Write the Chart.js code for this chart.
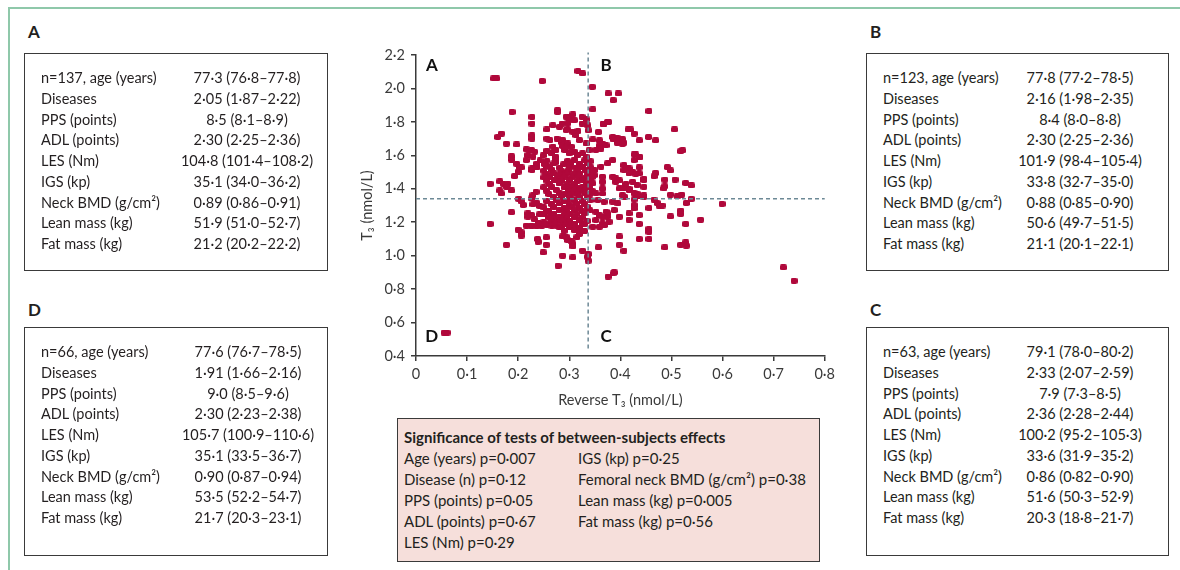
<!DOCTYPE html>
<html><head><meta charset="utf-8">
<script src="https://cdn.jsdelivr.net/npm/chart.js@4/dist/chart.umd.min.js"></script>
<style>
body{margin:0;width:1180px;height:570px;background:#fff;font-family:Lato,"Open Sans",sans-serif;color:#231f20;position:relative;overflow:hidden}
#frame{position:absolute;left:8px;top:7px;width:1200px;height:600px;border-left:2px solid #8fc8aa;border-top:2px solid #8fc8aa}
.lab{position:absolute;font-weight:bold;font-size:17px;line-height:20px}
.box{position:absolute;border:1px solid #3a3a3a;box-sizing:border-box;background:#fff}
.row{position:absolute;left:0;width:100%;height:20px;line-height:20px;font-size:14.5px;white-space:nowrap}
.row .k{position:absolute}
.row .v{position:absolute;width:220px;text-align:center}
#sig{background:#f6dfdb}
#sig .row{font-size:15px}
#sig .t{position:absolute;left:6px;top:8px;font-weight:bold;font-size:15px;line-height:20px;white-space:nowrap}
#chartWrap{position:absolute;left:340px;top:40px;width:500px;height:380px}
</style></head>
<body>
<div id="frame"></div>
<div id="chartWrap"><canvas id="c" width="500" height="380"></canvas></div>
<script>
// ---------- table data ----------
const rowLabels = ['age (years)','Diseases','PPS (points)','ADL (points)','LES (Nm)','IGS (kp)','Neck BMD (g/cm\u00b2)','Lean mass (kg)','Fat mass (kg)'];
const groupN = {A:137, B:123, C:63, D:66};
const valuesA = ['77·3 (76·8–77·8)','2·05 (1·87–2·22)','8·5 (8·1–8·9)','2·30 (2·25–2·36)','104·8 (101·4–108·2)','35·1 (34·0–36·2)','0·89 (0·86–0·91)','51·9 (51·0–52·7)','21·2 (20·2–22·2)'];
const valuesB = ['77·8 (77·2–78·5)','2·16 (1·98–2·35)','8·4 (8·0–8·8)','2·30 (2·25–2·36)','101·9 (98·4–105·4)','33·8 (32·7–35·0)','0·88 (0·85–0·90)','50·6 (49·7–51·5)','21·1 (20·1–22·1)'];
const valuesC = ['79·1 (78·0–80·2)','2·33 (2·07–2·59)','7·9 (7·3–8·5)','2·36 (2·28–2·44)','100·2 (95·2–105·3)','33·6 (31·9–35·2)','0·86 (0·82–0·90)','51·6 (50·3–52·9)','20·3 (18·8–21·7)'];
const valuesD = ['77·6 (76·7–78·5)','1·91 (1·66–2·16)','9·0 (8·5–9·6)','2·30 (2·23–2·38)','105·7 (100·9–110·6)','35·1 (33·5–36·7)','0·90 (0·87–0·94)','53·5 (52·2–54·7)','21·7 (20·3–23·1)'];
const sigTitle = 'Significance of tests of between-subjects effects';
const sigLeft = ['Age (years) p=0·007','Disease (n) p=0·12','PPS (points) p=0·05','ADL (points) p=0·67','LES (Nm) p=0·29'];
const sigRight = ['IGS (kp) p=0·25','Femoral neck BMD (g/cm\u00b2) p=0·38','Lean mass (kg) p=0·005','Fat mass (kg) p=0·56'];

// ---------- scatter data: [reverse T3, T3] ----------
const ptsOuter = [[0.152,2.06],[0.158,2.06],[0.247,2.045],[0.317,2.105],[0.326,2.09],[0.345,2.01],[0.376,1.97],[0.396,1.97],[0.386,1.93],[0.346,1.875],[0.277,1.87],[0.277,1.86],[0.188,1.86],[0.456,1.865],[0.227,1.83],[0.227,1.79],[0.307,1.845],[0.300,1.83],[0.310,1.81],[0.325,1.83],[0.334,1.815],[0.325,1.79],[0.377,1.80],[0.367,1.785],[0.286,1.79],[0.268,1.78],[0.256,1.755],[0.415,1.755],[0.420,1.755],[0.506,1.755],[0.337,1.75],[0.357,1.74],[0.160,1.71],[0.167,1.73],[0.177,1.67],[0.197,1.665],[0.227,1.72],[0.227,1.70],[0.256,1.70],[0.276,1.70],[0.284,1.68],[0.385,1.71],[0.394,1.705],[0.404,1.69],[0.407,1.675],[0.427,1.73],[0.437,1.69],[0.455,1.71],[0.469,1.69],[0.359,1.69],[0.359,1.66],[0.365,1.67],[0.372,1.66],[0.518,1.625],[0.522,1.63],[0.430,1.605],[0.437,1.59],[0.187,1.595],[0.187,1.575],[0.197,1.55],[0.203,1.53],[0.236,1.55],[0.145,1.43],[0.164,1.445],[0.171,1.43],[0.180,1.43],[0.164,1.39],[0.187,1.39],[0.201,1.34],[0.206,1.325],[0.187,1.26],[0.145,1.19],[0.177,1.065],[0.200,1.155],[0.206,1.14],[0.206,1.12],[0.238,1.10],[0.255,1.11],[0.255,1.065],[0.249,1.02],[0.278,0.94],[0.287,1.00],[0.307,0.99],[0.326,1.03],[0.337,1.01],[0.337,0.97],[0.357,1.05],[0.376,0.875],[0.388,0.90],[0.398,1.115],[0.398,1.065],[0.407,1.03],[0.417,1.215],[0.437,1.19],[0.437,1.10],[0.456,1.10],[0.456,1.16],[0.487,1.05],[0.498,1.235],[0.518,1.27],[0.518,1.25],[0.528,1.19],[0.518,1.065],[0.528,1.08],[0.529,1.06],[0.557,1.215],[0.599,1.31],[0.719,0.93],[0.740,0.85],[0.055,0.54],[0.061,0.54],[0.492,1.53],[0.498,1.51],[0.507,1.455],[0.528,1.435],[0.539,1.42],[0.539,1.34],[0.529,1.315],[0.498,1.365],[0.511,1.355],[0.520,1.365],[0.487,1.455],[0.487,1.415],[0.469,1.495],[0.466,1.475],[0.482,1.30],[0.466,1.335],[0.472,1.315],[0.456,1.285]];
const ptsRight = [[0.367,1.79],[0.375,1.80],[0.386,1.695],[0.404,1.695],[0.404,1.67],[0.394,1.675],[0.346,1.695],[0.362,1.67],[0.362,1.64],[0.352,1.632],[0.427,1.606],[0.437,1.588],[0.427,1.572],[0.385,1.572],[0.375,1.552],[0.362,1.532],[0.407,1.542],[0.407,1.512],[0.417,1.522],[0.417,1.492],[0.437,1.528],[0.437,1.492],[0.349,1.512],[0.349,1.482],[0.365,1.472],[0.365,1.442],[0.391,1.462],[0.391,1.442],[0.385,1.472],[0.424,1.442],[0.433,1.422],[0.446,1.452],[0.446,1.412],[0.485,1.402],[0.398,1.402],[0.407,1.402],[0.417,1.392],[0.365,1.402],[0.365,1.372],[0.352,1.372],[0.404,1.362],[0.427,1.372],[0.437,1.356],[0.427,1.336],[0.427,1.303],[0.427,1.283],[0.446,1.352],[0.476,1.299],[0.356,1.333],[0.368,1.323],[0.385,1.323],[0.395,1.313],[0.352,1.263],[0.359,1.243],[0.372,1.263],[0.375,1.233],[0.365,1.193],[0.352,1.213],[0.359,1.173],[0.346,1.173],[0.398,1.233],[0.437,1.243],[0.456,1.143],[0.386,0.894],[0.411,1.522],[0.424,1.502],[0.430,1.49],[0.446,1.46],[0.411,1.43],[0.398,1.45],[0.417,1.40],[0.433,1.37],[0.446,1.36],[0.365,1.233],[0.375,1.253],[0.369,1.183],[0.378,1.203],[0.388,1.273],[0.408,1.353],[0.417,1.253]];
const ptsLeft = [[0.216,1.636],[0.226,1.632],[0.232,1.622],[0.219,1.602],[0.229,1.592],[0.216,1.572],[0.236,1.532],[0.227,1.512],[0.243,1.57],[0.249,1.60],[0.256,1.628],[0.256,1.536],[0.274,1.59],[0.274,1.56],[0.206,1.528],[0.200,1.502],[0.193,1.476],[0.227,1.522],[0.235,1.528],[0.177,1.412],[0.167,1.372],[0.210,1.303],[0.229,1.362],[0.235,1.382],[0.226,1.342],[0.242,1.297],[0.219,1.253],[0.219,1.233],[0.226,1.243],[0.232,1.217],[0.216,1.18],[0.226,1.18],[0.236,1.175],[0.246,1.18],[0.256,1.185],[0.266,1.18],[0.276,1.18],[0.284,1.175],[0.239,1.083],[0.297,1.093],[0.307,1.073],[0.294,1.113],[0.336,0.994],[0.229,1.307],[0.236,1.317],[0.242,1.247],[0.255,1.267],[0.268,1.233],[0.281,1.213],[0.291,1.203],[0.300,1.173],[0.240,1.195],[0.250,1.20],[0.262,1.195],[0.270,1.205],[0.290,1.19],[0.300,1.20],[0.310,1.185],[0.325,1.19],[0.287,1.115],[0.304,1.085],[0.307,1.055],[0.315,1.11],[0.320,1.13]];
const ptsTop = [[0.294,1.831],[0.300,1.811],[0.281,1.771],[0.294,1.751],[0.307,1.741],[0.313,1.721],[0.320,1.691],[0.333,1.671],[0.339,1.631],[0.287,1.691],[0.297,1.671],[0.304,1.652],[0.291,1.632],[0.300,1.612],[0.310,1.622],[0.317,1.602],[0.326,1.612],[0.333,1.592],[0.262,1.691],[0.268,1.652],[0.274,1.632],[0.265,1.612],[0.297,1.791],[0.297,1.755],[0.336,1.78],[0.317,1.745],[0.287,1.656],[0.294,1.648]];
const ptsCore = [[0.256,1.568],[0.274,1.575],[0.297,1.566],[0.310,1.574],[0.330,1.570],[0.341,1.565],[0.251,1.548],[0.270,1.552],[0.289,1.546],[0.302,1.554],[0.320,1.548],[0.335,1.552],[0.262,1.530],[0.281,1.526],[0.300,1.533],[0.312,1.527],[0.326,1.531],[0.342,1.528],[0.250,1.508],[0.266,1.513],[0.285,1.507],[0.299,1.512],[0.316,1.509],[0.331,1.514],[0.345,1.506],[0.255,1.489],[0.270,1.492],[0.281,1.487],[0.295,1.493],[0.309,1.488],[0.321,1.491],[0.336,1.486],[0.250,1.468],[0.261,1.472],[0.276,1.466],[0.290,1.473],[0.305,1.469],[0.319,1.474],[0.331,1.467],[0.345,1.471],[0.256,1.449],[0.271,1.452],[0.285,1.447],[0.300,1.453],[0.316,1.448],[0.326,1.451],[0.341,1.446],[0.261,1.428],[0.280,1.432],[0.296,1.427],[0.311,1.431],[0.333,1.426],[0.346,1.433],[0.250,1.409],[0.266,1.412],[0.290,1.408],[0.305,1.413],[0.316,1.407],[0.326,1.411],[0.340,1.409],[0.255,1.389],[0.275,1.392],[0.299,1.387],[0.310,1.393],[0.321,1.388],[0.330,1.391],[0.345,1.386],[0.260,1.369],[0.281,1.372],[0.291,1.367],[0.305,1.371],[0.316,1.368],[0.331,1.373],[0.340,1.366],[0.270,1.349],[0.285,1.352],[0.300,1.347],[0.320,1.351],[0.335,1.348],[0.255,1.329],[0.275,1.333],[0.290,1.327],[0.310,1.331],[0.325,1.328],[0.341,1.332],[0.265,1.309],[0.280,1.312],[0.300,1.307],[0.315,1.311],[0.330,1.308],[0.250,1.289],[0.270,1.292],[0.290,1.287],[0.305,1.291],[0.320,1.288],[0.335,1.293],[0.260,1.269],[0.280,1.272],[0.295,1.267],[0.310,1.271],[0.325,1.268],[0.340,1.272],[0.250,1.249],[0.270,1.252],[0.290,1.247],[0.300,1.251],[0.315,1.248],[0.330,1.253],[0.260,1.229],[0.280,1.232],[0.295,1.227],[0.310,1.231],[0.325,1.228],[0.265,1.209],[0.285,1.212],[0.300,1.207],[0.320,1.211],[0.335,1.208],[0.252,1.189],[0.272,1.192],[0.292,1.187],[0.310,1.191],[0.330,1.188],[0.281,1.169],[0.300,1.172],[0.320,1.167],[0.290,1.149],[0.310,1.152],[0.330,1.147]];

// cut-off lines and tick labels
const rT3Cut = 0.337;
const t3Cut = 1.34;
const xTickLabels = ['0','0·1','0·2','0·3','0·4','0·5','0·6','0·7','0·8'];
const yTickLabels = ['0·4','0·6','0·8','1·0','1·2','1·4','1·6','1·8','2·0','2·2'];
const quadLetters = ['A','B','C','D'];
const quadLetterAt = [[0.031,2.14],[0.372,2.14],[0.372,0.515],[0.031,0.515]];

// ---------- build boxes ----------
function makeBox(letter, n, vals, left, top, w, h, labelTop, valCenter){
  const lab = document.createElement('div'); lab.className='lab'; lab.textContent=letter;
  lab.style.left=(left+4)+'px'; lab.style.top=labelTop+'px'; document.body.appendChild(lab);
  const b = document.createElement('div'); b.className='box';
  Object.assign(b.style,{left:left+'px',top:top+'px',width:w+'px',height:h+'px'});
  rowLabels.forEach((lb,i)=>{
    const r=document.createElement('div'); r.className='row'; r.style.top=(14+i*20.75)+'px';
    const k=document.createElement('span'); k.className='k'; k.style.left='16px';
    k.textContent = i===0 ? ('n='+n+', '+lb) : lb;
    const v=document.createElement('span'); v.className='v'; v.style.left=(valCenter-110)+'px'; v.textContent=vals[i];
    r.appendChild(k); r.appendChild(v); b.appendChild(r);
  });
  document.body.appendChild(b);
}
makeBox('A', groupN.A, valuesA, 24, 53, 304, 218, 22, 222);
makeBox('B', groupN.B, valuesB, 866, 53, 303, 218, 22, 213);
makeBox('D', groupN.D, valuesD, 24, 327, 304, 229, 300, 223);
makeBox('C', groupN.C, valuesC, 866, 327, 303, 229, 300, 213);

(function(){
  const b=document.createElement('div'); b.className='box'; b.id='sig';
  Object.assign(b.style,{left:'397px',top:'418px',width:'423px',height:'144px'});
  const t=document.createElement('div'); t.className='t'; t.textContent=sigTitle; b.appendChild(t);
  sigLeft.forEach((s,i)=>{const r=document.createElement('div'); r.className='row'; r.style.top=(29+i*21)+'px';
    const k=document.createElement('span'); k.className='k'; k.style.left='6px'; k.textContent=s; r.appendChild(k); b.appendChild(r);});
  sigRight.forEach((s,i)=>{const r=document.createElement('div'); r.className='row'; r.style.top=(29+i*21)+'px';
    const k=document.createElement('span'); k.className='k'; k.style.left='180px'; k.textContent=s; r.appendChild(k); b.appendChild(r);});
  document.body.appendChild(b);
})();

// ---------- chart ----------
const markColor = '#b0083b';
const mark = document.createElement('canvas'); mark.width=7; mark.height=6;
(function(){const m=mark.getContext('2d'); m.fillStyle=markColor; m.beginPath();
  if(m.roundRect){m.roundRect(0,0,7,6,1.8);} else {m.rect(0,0,7,6);} m.fill();})();

const allPts = [].concat(ptsOuter, ptsRight, ptsLeft, ptsTop, ptsCore).map(p=>({x:p[0],y:p[1]}));
const axisColor = '#3a3a3a';
const tickFont = {family:'Lato, "Open Sans", sans-serif', size:14.5};

const lettersPlugin = {
  id:'letters',
  afterDatasetsDraw(chart){
    const {ctx, scales:{x,y}} = chart;
    ctx.save(); ctx.fillStyle='#111'; ctx.font='bold 17px Lato, "Open Sans", sans-serif';
    ctx.textAlign='center'; ctx.textBaseline='middle';
    quadLetters.forEach((l,i)=>ctx.fillText(l, x.getPixelForValue(quadLetterAt[i][0]), y.getPixelForValue(quadLetterAt[i][1])));
    ctx.restore();
  }
};

new Chart(document.getElementById('c'), {
  type:'scatter',
  data:{datasets:[
    {data:[{x:rT3Cut,y:0.445},{x:rT3Cut,y:2.215}], type:'line', showLine:true, borderColor:'#6d8996', borderWidth:1.5, borderDash:[4,3], pointRadius:0, order:0, clip:false},
    {data:[{x:0,y:t3Cut},{x:0.8,y:t3Cut}], type:'line', showLine:true, borderColor:'#6d8996', borderWidth:1.5, borderDash:[4,3], pointRadius:0, order:0, clip:false},
    {data:allPts, pointStyle:mark, pointRadius:4, backgroundColor:markColor, borderColor:markColor, order:1}
  ]},
  options:{
    responsive:false, animation:false, events:[],
    layout:{padding:{top:15,right:13,left:0,bottom:0}},
    plugins:{legend:{display:false}, tooltip:{enabled:false}},
    scales:{
      x:{type:'linear', min:0, max:0.8,
        ticks:{stepSize:0.1, color:axisColor, font:tickFont, padding:5, maxRotation:0, autoSkip:false,
          callback:(v,i)=>xTickLabels[i]},
        grid:{drawOnChartArea:false, drawTicks:true, tickLength:5, color:axisColor, lineWidth:1.5},
        border:{color:axisColor, width:1.5},
        title:{display:true, text:'Reverse T\u2083 (nmol/L)', color:axisColor, font:tickFont, padding:{top:0,bottom:11}},
        afterFit:s=>{s.height=64;}},
      y:{type:'linear', min:0.4, max:2.2,
        ticks:{stepSize:0.2, color:axisColor, font:tickFont, padding:6, autoSkip:false,
          callback:(v,i)=>yTickLabels[i]},
        grid:{drawOnChartArea:false, drawTicks:true, tickLength:5, color:axisColor, lineWidth:1.5},
        border:{color:axisColor, width:1.5},
        title:{display:true, text:'T\u2083 (nmol/L)', color:axisColor, font:tickFont, padding:{top:19,bottom:0}},
        afterFit:s=>{s.width=76;}}
    }
  },
  plugins:[lettersPlugin]
});
</script>
</body></html>
